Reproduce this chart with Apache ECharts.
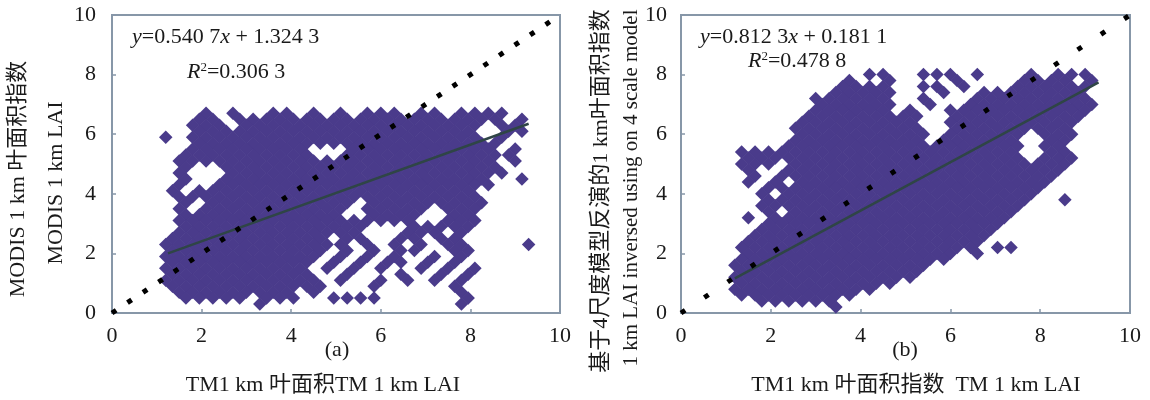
<!DOCTYPE html>
<html><head><meta charset="utf-8">
<script src="https://cdn.jsdelivr.net/npm/echarts@6/dist/echarts.min.js"></script>
<style>html,body{margin:0;padding:0;background:#fff}#c{width:1150px;height:400px}</style>
</head><body><div id="c"></div>
<script>
// ---- data ----
const axisTickValues = [0, 2, 4, 6, 8, 10];

// panel (a): TM LAI (x) vs MODIS LAI (y); rows of [y, [x ...]]
const cloudRowsA = [
[6.7,[2.1,2.7,3.6,3.9,4.5,5.1,5.7,6.0,6.3,6.9,7.2,7.8,8.1,8.4,8.7]],
[6.5,[1.95,2.25,2.85,3.15,3.45,3.75,4.05,4.35,4.65,4.95,5.25,5.55,5.85,6.15,6.45,6.75,7.05,7.35,7.65,7.95,8.25,8.55,9.15]],
[6.3,[1.8,2.1,2.4,3.0,3.3,3.6,3.9,4.2,4.5,4.8,5.1,5.4,5.7,6.0,6.3,6.6,6.9,7.2,7.5,7.8,8.1,8.7,9.0]],
[6.1,[1.95,2.25,2.55,2.85,3.15,3.45,3.75,4.05,4.35,4.65,4.95,5.25,5.55,5.85,6.15,6.45,6.75,7.05,7.35,7.65,7.95,8.85,9.15]],
[5.9,[1.2,1.8,2.1,2.4,2.7,3.0,3.3,3.6,3.9,4.2,4.5,4.8,5.1,5.4,5.7,6.0,6.3,6.6,6.9,7.2,7.5,7.8,8.1,8.7]],
[5.7,[1.95,2.25,2.55,2.85,3.15,3.45,3.75,4.05,4.35,4.65,4.95,5.25,5.55,5.85,6.15,6.45,6.75,7.05,7.35,7.65,7.95,8.25,8.55]],
[5.5,[1.8,2.1,2.4,2.7,3.0,3.3,3.6,3.9,4.2,5.4,5.7,6.0,6.3,6.6,6.9,7.2,7.5,7.8,8.1,8.4,9.0]],
[5.3,[1.65,1.95,2.25,2.55,2.85,3.15,3.45,3.75,4.05,4.35,5.25,5.55,5.85,6.15,6.45,6.75,7.05,7.35,7.65,7.95,8.25,8.55,8.85]],
[5.1,[1.5,1.8,2.1,2.4,2.7,3.0,3.3,3.6,3.9,4.2,4.5,4.8,5.1,5.4,5.7,6.0,6.3,6.6,6.9,7.2,7.5,7.8,8.1,8.4,9.0]],
[4.9,[1.65,2.55,2.85,3.15,3.45,3.75,4.05,4.35,4.65,4.95,5.25,5.55,5.85,6.15,6.45,6.75,7.05,7.35,7.65,7.95,8.25,8.55]],
[4.7,[1.5,2.7,3.0,3.3,3.6,3.9,4.2,4.5,4.8,5.1,5.4,5.7,6.0,6.3,6.6,6.9,7.2,7.5,7.8,8.1,8.4,8.7]],
[4.5,[1.65,2.55,2.85,3.15,3.45,3.75,4.05,4.35,4.65,4.95,5.25,5.55,5.85,6.15,6.45,6.75,7.05,7.35,7.65,7.95,8.25,9.15]],
[4.3,[1.5,2.4,2.7,3.0,3.3,3.6,3.9,4.2,4.5,4.8,5.1,5.4,5.7,6.0,6.3,6.6,6.9,7.2,7.5,7.8,8.1,8.4]],
[4.1,[1.35,1.95,2.25,2.55,2.85,3.15,3.45,3.75,4.05,4.35,4.65,4.95,5.25,5.55,5.85,6.15,6.45,6.75,7.05,7.35,7.65,7.95]],
[3.9,[1.5,1.8,2.1,2.4,2.7,3.0,3.3,3.6,3.9,4.2,4.5,4.8,5.1,5.4,5.7,6.0,6.3,6.6,6.9,7.2,7.5,7.8,8.1]],
[3.7,[1.65,2.25,2.55,2.85,3.15,3.45,3.75,4.05,4.35,4.65,4.95,5.25,5.85,6.15,6.45,6.75,7.05,7.35,7.65,7.95,8.25]],
[3.5,[1.5,2.1,2.4,2.7,3.0,3.3,3.6,3.9,4.2,4.5,4.8,5.1,5.7,6.0,6.3,6.6,6.9,7.5,7.8,8.1]],
[3.3,[1.65,1.95,2.25,2.55,2.85,3.15,3.45,3.75,4.05,4.35,4.65,4.95,5.85,6.15,6.45,6.75,7.65,7.95]],
[3.1,[1.5,1.8,2.1,2.4,2.7,3.0,3.3,3.6,3.9,4.2,4.5,4.8,5.1,5.4,5.7,6.0,6.3,6.6,7.5,7.8,8.1]],
[2.9,[1.65,1.95,2.25,2.55,2.85,3.15,3.45,3.75,4.05,4.35,4.65,4.95,5.25,5.55,6.75,7.05,7.35,7.65,7.95]],
[2.7,[1.5,1.8,2.1,2.4,2.7,3.0,3.3,3.6,3.9,4.2,4.5,4.8,5.1,5.4,6.6,6.9,7.2,7.8]],
[2.5,[1.35,1.65,1.95,2.25,2.55,2.85,3.15,3.45,3.75,4.05,4.35,4.65,5.25,5.55,6.45,6.75,7.35,7.65]],
[2.3,[1.2,1.5,1.8,2.1,2.4,2.7,3.0,3.3,3.6,3.9,4.2,4.5,4.8,5.1,5.7,6.3,6.9,7.5,7.8,9.3]],
[2.1,[1.35,1.65,1.95,2.25,2.55,2.85,3.15,3.45,3.75,4.05,4.35,4.65,5.25,5.85,6.45,6.75,7.65,7.95]],
[1.9,[1.2,1.5,1.8,2.1,2.4,2.7,3.0,3.3,3.6,3.9,4.2,4.5,5.1,5.7,6.3,7.2,7.8]],
[1.7,[1.35,1.65,1.95,2.25,2.55,2.85,3.15,3.45,3.75,4.05,4.35,4.95,5.55,6.15,6.45,7.05,7.65]],
[1.5,[1.2,1.5,1.8,2.1,2.4,2.7,3.0,3.3,3.6,3.9,4.2,4.8,5.4,6.0,6.9,7.5,8.1]],
[1.3,[1.35,1.65,1.95,2.25,2.55,2.85,3.15,3.45,3.75,4.05,4.35,5.25,6.45,7.35,7.95]],
[1.1,[1.2,1.5,1.8,2.1,2.4,2.7,3.0,3.3,3.6,3.9,4.2,4.5,5.1,6.0,6.6,7.2,7.8]],
[0.9,[1.35,1.65,1.95,2.25,2.55,2.85,3.15,3.45,3.75,4.05,4.35,4.65,5.85,7.65]],
[0.7,[1.5,1.8,2.1,2.4,2.7,3.0,3.3,3.6,3.9,4.5,7.8]],
[0.5,[1.65,1.95,2.25,2.55,2.85,3.45,3.75,4.05,4.95,5.25,5.55,5.85,7.95]],
[0.3,[3.3,7.8]]
];

// panel (b): TM LAI (x) vs 4-scale model LAI (y); rows of [y, [x ...]]
const cloudRowsB = [
[8.0,[4.2,4.5,5.4,5.7,6.0,6.6,7.8,8.4,8.7,9.0]],
[7.8,[3.75,4.65,6.15,7.65,7.95,8.25,8.55,9.15]],
[7.6,[3.6,3.9,4.2,4.5,5.4,5.7,6.3,7.5,7.8,8.1,8.4,8.7,9.0]],
[7.4,[3.45,3.75,4.05,4.35,4.65,5.85,6.75,7.05,7.35,7.65,7.95,8.25,8.55,8.85]],
[7.2,[3.0,3.3,3.6,3.9,4.2,4.5,5.4,6.6,6.9,7.2,7.5,7.8,8.1,8.4,8.7,9.0]],
[7.0,[3.15,3.45,3.75,4.05,4.35,4.65,5.55,6.45,6.75,7.05,7.35,7.65,7.95,8.25,8.55,8.85,9.15]],
[6.8,[3.0,3.3,3.6,3.9,4.2,4.5,5.1,6.0,6.3,6.6,6.9,7.2,7.5,7.8,8.1,8.4,8.7,9.0]],
[6.6,[2.85,3.15,3.45,3.75,4.05,4.35,4.65,4.95,5.25,6.15,6.45,6.75,7.05,7.35,7.65,7.95,8.25,8.55,8.85]],
[6.4,[2.7,3.0,3.3,3.6,3.9,4.2,4.5,4.8,5.1,6.0,6.3,6.6,6.9,7.2,7.5,7.8,8.1,8.4,8.7]],
[6.2,[2.55,2.85,3.15,3.45,3.75,4.05,4.35,4.65,4.95,5.25,6.15,6.45,6.75,7.05,7.35,7.65,7.95,8.25,8.55]],
[6.0,[2.7,3.0,3.3,3.6,3.9,4.2,4.5,4.8,5.1,5.4,6.0,6.3,6.6,6.9,7.2,7.5,8.1,8.4,8.7]],
[5.8,[2.55,2.85,3.15,3.45,3.75,4.05,4.35,4.65,4.95,5.25,5.85,6.15,6.45,6.75,7.05,7.35,8.25,8.55]],
[5.6,[2.4,2.7,3.0,3.3,3.6,3.9,4.2,4.5,4.8,5.1,5.4,5.7,6.0,6.3,6.6,6.9,7.2,7.5,8.1,8.4]],
[5.4,[1.35,1.65,1.95,2.25,2.55,2.85,3.15,3.45,3.75,4.05,4.35,4.65,4.95,5.25,5.55,5.85,6.15,6.45,6.75,7.05,7.35,8.25,8.55]],
[5.2,[1.5,1.8,2.1,2.4,2.7,3.0,3.3,3.6,3.9,4.2,4.5,4.8,5.1,5.4,5.7,6.0,6.3,6.6,6.9,7.2,7.5,8.1,8.4,8.7]],
[5.0,[1.35,1.65,1.95,2.55,2.85,3.15,3.45,3.75,4.05,4.35,4.65,4.95,5.25,5.55,5.85,6.15,6.45,6.75,7.05,7.35,7.65,7.95,8.25,8.55]],
[4.8,[1.5,2.4,2.7,3.0,3.3,3.6,3.9,4.2,4.5,4.8,5.1,5.4,5.7,6.0,6.3,6.6,6.9,7.2,7.5,7.8,8.1,8.4]],
[4.6,[1.65,2.25,2.55,2.85,3.15,3.45,3.75,4.05,4.35,4.65,4.95,5.25,5.55,5.85,6.15,6.45,6.75,7.05,7.35,7.65,7.95,8.25]],
[4.4,[1.5,2.1,2.7,3.0,3.3,3.6,3.9,4.2,4.5,4.8,5.1,5.4,5.7,6.0,6.3,6.6,6.9,7.2,7.5,7.8,8.1]],
[4.2,[1.95,2.25,2.55,2.85,3.15,3.45,3.75,4.05,4.35,4.65,4.95,5.25,5.55,5.85,6.15,6.45,6.75,7.05,7.35,7.65,7.95]],
[4.0,[1.8,2.4,2.7,3.0,3.3,3.6,3.9,4.2,4.5,4.8,5.1,5.4,5.7,6.0,6.3,6.6,6.9,7.2,7.5,7.8]],
[3.8,[1.95,2.25,2.55,2.85,3.15,3.45,3.75,4.05,4.35,4.65,4.95,5.25,5.55,5.85,6.15,6.45,6.75,7.05,7.35,7.65,8.55]],
[3.6,[1.8,2.1,2.4,2.7,3.0,3.3,3.6,3.9,4.2,4.5,4.8,5.1,5.4,5.7,6.0,6.3,6.6,6.9,7.2,7.5]],
[3.4,[1.95,2.55,2.85,3.15,3.45,3.75,4.05,4.35,4.65,4.95,5.25,5.55,5.85,6.15,6.45,6.75,7.05,7.35]],
[3.2,[1.5,2.1,2.4,2.7,3.0,3.3,3.6,3.9,4.2,4.5,4.8,5.1,5.4,5.7,6.0,6.3,6.6,6.9,7.2]],
[3.0,[1.95,2.25,2.55,2.85,3.15,3.45,3.75,4.05,4.35,4.65,4.95,5.25,5.55,5.85,6.15,6.45,6.75,7.05]],
[2.8,[1.8,2.1,2.4,2.7,3.0,3.3,3.6,3.9,4.2,4.5,4.8,5.1,5.4,5.7,6.0,6.3,6.6,6.9]],
[2.6,[1.65,1.95,2.25,2.55,2.85,3.15,3.45,3.75,4.05,4.35,4.65,4.95,5.25,5.55,5.85,6.15,6.45,6.75]],
[2.4,[1.5,1.8,2.1,2.4,2.7,3.0,3.3,3.6,3.9,4.2,4.5,4.8,5.1,5.4,5.7,6.0,6.3,6.6]],
[2.2,[1.35,1.65,1.95,2.25,2.55,2.85,3.15,3.45,3.75,4.05,4.35,4.65,4.95,5.25,5.55,5.85,6.15,6.45,7.05,7.35]],
[2.0,[1.5,1.8,2.1,2.4,2.7,3.0,3.3,3.6,3.9,4.2,4.5,4.8,5.1,5.4,5.7,6.0,6.6]],
[1.8,[1.35,1.65,1.95,2.25,2.55,2.85,3.15,3.45,3.75,4.05,4.35,4.65,4.95,5.25,5.55,5.85]],
[1.6,[1.2,1.5,1.8,2.1,2.4,2.7,3.0,3.3,3.6,3.9,4.2,4.5,4.8,5.1,5.4]],
[1.4,[1.35,1.65,1.95,2.25,2.55,2.85,3.15,3.45,3.75,4.05,4.35,4.65,4.95,5.25]],
[1.2,[1.2,1.5,1.8,2.1,2.4,2.7,3.0,3.3,3.6,3.9,4.2,4.5,4.8,5.1]],
[1.0,[1.35,1.65,1.95,2.25,2.55,2.85,3.15,3.45,3.75,4.05,4.35,4.65]],
[0.8,[1.2,1.5,1.8,2.1,2.4,2.7,3.0,3.3,3.6,3.9,4.2]],
[0.6,[1.35,1.65,1.95,2.25,2.55,2.85,3.15,3.45,3.75]],
[0.4,[1.8,2.1,2.4,2.7,3.0,3.3]],
[0.2,[3.45]]
];

// fitted regression lines (end points)
const fitLineA = [[1.25, 2.0], [9.3, 6.35]];
const fitLineB = [[1.2, 1.16], [9.3, 7.74]];
// 1:1 reference line
const oneToOne = [[0, 0], [10, 10]];

const eqTextA = ['y', '=0.540 7', 'x', ' + 1.324 3'];
const r2TextA = '0.306 3';
const eqTextB = ['y', '=0.812 3', 'x', ' + 0.181 1'];
const r2TextB = '0.478 8';

const xTitleA = 'TM1 km 叶面积TM 1 km LAI';
const xTitleB = 'TM1 km 叶面积指数  TM 1 km LAI';
const yTitleA1 = 'MODIS 1 km 叶面积指数';
const yTitleA2 = 'MODIS 1 km LAI';
const yTitleB1 = '基于4尺度模型反演的1 km叶面积指数';
const yTitleB2 = '1 km LAI inversed using on 4 scale model';
const panelTags = ['(a)', '(b)'];

// ---- build ----
const toPts = rows => rows.flatMap(([y, xs]) => xs.map(x => [x, y]));
const FONT = "'Liberation Serif','Times New Roman','Noto Sans CJK SC',serif";
const FRAME = '#8797a8';
const PURPLE = '#4a3b8b';
const TXT = '#1a1a1a';

function xAxisOf(gi) {
  return {
    type: 'value', gridIndex: gi, min: 0, max: 10, interval: 2,
    axisLine: { show: true, lineStyle: { color: FRAME, width: 2 } },
    axisTick: { show: true, inside: true, length: 4, lineStyle: { color: FRAME, width: 1.5 } },
    axisLabel: { fontFamily: FONT, fontSize: 22, color: TXT, margin: 12,
      formatter: v => axisTickValues.includes(v) ? String(v) : '' },
    splitLine: { show: false }
  };
}
function yAxisOf(gi, m) {
  return {
    type: 'value', gridIndex: gi, min: 0, max: 10, interval: 2,
    axisLine: { show: true, lineStyle: { color: FRAME, width: 2 } },
    axisTick: { show: true, inside: true, length: 4, lineStyle: { color: FRAME, width: 1.5 } },
    axisLabel: { fontFamily: FONT, fontSize: 22, color: TXT, margin: m,
      formatter: v => axisTickValues.includes(v) ? String(v) : '' },
    splitLine: { show: false }
  };
}
function cloud(idx, rows) {
  return { type: 'scatter', xAxisIndex: idx, yAxisIndex: idx, data: toPts(rows),
    symbol: 'diamond', symbolSize: 13.5, itemStyle: { color: PURPLE, opacity: 1 },
    silent: true, z: 2 };
}
function fit(idx, d) {
  return { type: 'line', xAxisIndex: idx, yAxisIndex: idx, data: d, showSymbol: false,
    lineStyle: { color: '#2f4546', width: 2.5 }, silent: true, z: 3 };
}
function diag(idx, dash) {
  return { type: 'line', xAxisIndex: idx, yAxisIndex: idx, data: oneToOne, showSymbol: false,
    clip: false, lineStyle: { color: '#000', width: 5, type: dash, cap: 'butt' }, silent: true, z: 4 };
}
function txt(x, y, text, opt) {
  return Object.assign({ type: 'text', x: x, y: y, silent: true, z: 10,
    style: Object.assign({ text: text, fontFamily: FONT, fontSize: 22, fill: TXT,
      align: 'center', verticalAlign: 'middle' }, (opt && opt.style) || {}) },
    opt && opt.rotation !== undefined ? { rotation: opt.rotation } : {});
}
const rich = {
  i: { fontFamily: FONT, fontSize: 22, fontStyle: 'italic', fill: TXT },
  n: { fontFamily: FONT, fontSize: 22, fill: TXT },
  s: { fontFamily: FONT, fontSize: 13, fill: TXT, padding: [0, 0, 9, 0] }
};
function eq(x, y, parts) {
  return txt(x, y, '{i|' + parts[0] + '}{n|' + parts[1] + '}{i|' + parts[2] + '}{n|' + parts[3] + '}',
    { style: { align: 'left', rich: rich } });
}
function r2(x, y, v) {
  return txt(x, y, '{i|R}{s|2}{n|=' + v + '}', { style: { align: 'left', rich: rich } });
}

const chart = echarts.init(document.getElementById('c'), null, { renderer: 'canvas' });
chart.setOption({
  animation: false,
  backgroundColor: '#fff',
  grid: [
    { left: 112, top: 15, width: 448, height: 298, show: true, borderColor: FRAME, borderWidth: 2, backgroundColor: 'transparent' },
    { left: 681, top: 15, width: 449, height: 298, show: true, borderColor: FRAME, borderWidth: 2, backgroundColor: 'transparent' }
  ],
  xAxis: [xAxisOf(0), xAxisOf(1)],
  yAxis: [yAxisOf(0, 16), yAxisOf(1, 14)],
  series: [
    cloud(0, cloudRowsA), cloud(1, cloudRowsB),
    fit(0, fitLineA), fit(1, fitLineB),
    diag(0, [5, 13.6]), diag(1, [5, 23])
  ],
  graphic: [
    eq(132, 37, eqTextA), r2(187, 72, r2TextA),
    eq(700, 37, eqTextB), r2(748, 61, r2TextB),
    txt(337, 350, panelTags[0]), txt(905, 350, panelTags[1]),
    txt(323, 385, xTitleA), txt(916, 385, xTitleB),
    txt(18, 179, yTitleA1, { rotation: Math.PI / 2 }),
    txt(56, 183, yTitleA2, { rotation: Math.PI / 2 }),
    txt(601, 191, yTitleB1, { rotation: Math.PI / 2 }),
    txt(631, 188, yTitleB2, { rotation: Math.PI / 2, style: { fontSize: 21 } })
  ]
});
</script>
</body></html>
